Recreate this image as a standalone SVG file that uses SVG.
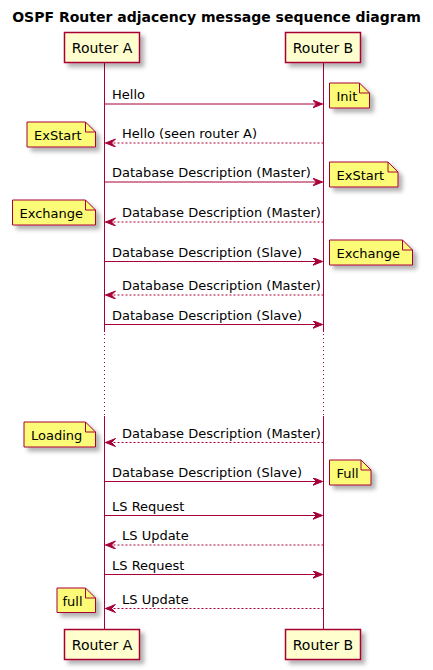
<svg xmlns="http://www.w3.org/2000/svg" width="433" height="670" viewBox="0 0 433 670">
<style>
text{font-family:"DejaVu Sans","Noto Sans",sans-serif;fill:#000}
.title{font-size:14px;font-weight:bold}
.pt{font-size:14px}
.msg{font-size:13px}
.box{fill:#FEFECE;stroke:#A80036;stroke-width:1.5}
.note{fill:#FBFB77;stroke:#A80036;stroke-width:1}
.fold{fill:none;stroke:#A80036;stroke-width:1}
.life{stroke:#A80036;stroke-width:1;fill:none}
.dot{stroke:#A80036;stroke-width:1;stroke-dasharray:1,3;fill:none}
.solid{stroke:#A80036;stroke-width:1;fill:none;marker-end:url(#ah)}
.dash{stroke:#A80036;stroke-width:1;stroke-dasharray:2,2;fill:none;marker-end:url(#ah)}
</style>
<defs>
<filter id="sh" x="-20%" y="-20%" width="160%" height="160%">
<feDropShadow dx="4" dy="4" stdDeviation="2" flood-color="#000" flood-opacity="0.3"/>
</filter>
<marker id="ah" markerUnits="userSpaceOnUse" markerWidth="12" markerHeight="10" refX="10" refY="4" orient="auto" viewBox="0 0 12 10">
<path d="M0,0 L10,4 L0,8 L4,4 Z" fill="#A80036" stroke="#A80036" stroke-width="1"/>
</marker>
</defs>
<text class="title" x="216.5" y="22" text-anchor="middle">OSPF Router adjacency message sequence diagram</text>

<g id="lifelines">
<line class="life" x1="104.5" y1="62.5" x2="104.5" y2="332"/>
<line class="dot" x1="104.5" y1="334" x2="104.5" y2="416"/>
<line class="life" x1="104.5" y1="416" x2="104.5" y2="629.5"/>
<line class="life" x1="323.5" y1="62.5" x2="323.5" y2="332"/>
<line class="dot" x1="323.5" y1="334" x2="323.5" y2="416"/>
<line class="life" x1="323.5" y1="416" x2="323.5" y2="629.5"/>
</g>

<g id="routerA">
<rect class="box" x="64.5" y="32.5" width="75" height="30" filter="url(#sh)"/>
<text class="pt" x="102" y="53" text-anchor="middle">Router A</text>
<rect class="box" x="64.5" y="629.5" width="75" height="30" filter="url(#sh)"/>
<text class="pt" x="102" y="650" text-anchor="middle">Router A</text>
</g>
<g id="routerB">
<rect class="box" x="285.5" y="32.5" width="75" height="30" filter="url(#sh)"/>
<text class="pt" x="323" y="53" text-anchor="middle">Router B</text>
<rect class="box" x="285.5" y="629.5" width="75" height="30" filter="url(#sh)"/>
<text class="pt" x="323" y="650" text-anchor="middle">Router B</text>
</g>

<g id="connectors">
<line class="solid" x1="104.5" y1="104" x2="322.5" y2="104"/>
<text class="msg" x="112" y="99">Hello</text>
<line class="dash" x1="323.5" y1="143" x2="105.5" y2="143"/>
<text class="msg" x="122" y="138">Hello (seen router A)</text>
<line class="solid" x1="104.5" y1="182" x2="322.5" y2="182"/>
<text class="msg" x="112" y="177">Database Description (Master)</text>
<line class="dash" x1="323.5" y1="222" x2="105.5" y2="222"/>
<text class="msg" x="122" y="217">Database Description (Master)</text>
<line class="solid" x1="104.5" y1="261.5" x2="322.5" y2="261.5"/>
<text class="msg" x="112" y="256.5">Database Description (Slave)</text>
<line class="dash" x1="323.5" y1="295" x2="105.5" y2="295"/>
<text class="msg" x="122" y="290">Database Description (Master)</text>
<line class="solid" x1="104.5" y1="324.5" x2="322.5" y2="324.5"/>
<text class="msg" x="112" y="319.5">Database Description (Slave)</text>
<line class="dash" x1="323.5" y1="442.5" x2="105.5" y2="442.5"/>
<text class="msg" x="122" y="437.5">Database Description (Master)</text>
<line class="solid" x1="104.5" y1="481.5" x2="322.5" y2="481.5"/>
<text class="msg" x="112" y="476.5">Database Description (Slave)</text>
<line class="solid" x1="104.5" y1="515.5" x2="322.5" y2="515.5"/>
<text class="msg" x="112" y="510.5">LS Request</text>
<line class="dash" x1="323.5" y1="545" x2="105.5" y2="545"/>
<text class="msg" x="122" y="540">LS Update</text>
<line class="solid" x1="104.5" y1="574.5" x2="322.5" y2="574.5"/>
<text class="msg" x="112" y="569.5">LS Request</text>
<line class="dash" x1="323.5" y1="608.5" x2="105.5" y2="608.5"/>
<text class="msg" x="122" y="603.5">LS Update</text>
</g>

<g id="note-init">
<path class="note" filter="url(#sh)" d="M329.5,83 L329.5,108 L369.5,108 L369.5,93 L359.5,83 Z"/>
<path class="fold" d="M359.5,83 L359.5,93 L369.5,93"/>
<text class="msg" x="336.5" y="100.5">Init</text>
</g>
<g id="note-exstart-a">
<path class="note" filter="url(#sh)" d="M27,122 L27,147 L95.5,147 L95.5,132 L85.5,122 Z"/>
<path class="fold" d="M85.5,122 L85.5,132 L95.5,132"/>
<text class="msg" x="34" y="139.5">ExStart</text>
</g>
<g id="note-exstart-b">
<path class="note" filter="url(#sh)" d="M329.5,162 L329.5,187 L398,187 L398,172 L388,162 Z"/>
<path class="fold" d="M388,162 L388,172 L398,172"/>
<text class="msg" x="336.5" y="179.5">ExStart</text>
</g>
<g id="note-exchange-a">
<path class="note" filter="url(#sh)" d="M12.5,200 L12.5,225 L95.5,225 L95.5,210 L85.5,200 Z"/>
<path class="fold" d="M85.5,200 L85.5,210 L95.5,210"/>
<text class="msg" x="19.5" y="217.5">Exchange</text>
</g>
<g id="note-exchange-b">
<path class="note" filter="url(#sh)" d="M329.5,240 L329.5,265 L412.5,265 L412.5,250 L402.5,240 Z"/>
<path class="fold" d="M402.5,240 L402.5,250 L412.5,250"/>
<text class="msg" x="336.5" y="257.5">Exchange</text>
</g>
<g id="note-loading">
<path class="note" filter="url(#sh)" d="M24,422 L24,447 L95.5,447 L95.5,432 L85.5,422 Z"/>
<path class="fold" d="M85.5,422 L85.5,432 L95.5,432"/>
<text class="msg" x="31" y="439.5">Loading</text>
</g>
<g id="note-full-b">
<path class="note" filter="url(#sh)" d="M329.5,460 L329.5,485 L371,485 L371,470 L361,460 Z"/>
<path class="fold" d="M361,460 L361,470 L371,470"/>
<text class="msg" x="336.5" y="477.5">Full</text>
</g>
<g id="note-full-a">
<path class="note" filter="url(#sh)" d="M57,588 L57,612.5 L95.5,612.5 L95.5,598 L85.5,588 Z"/>
<path class="fold" d="M85.5,588 L85.5,598 L95.5,598"/>
<text class="msg" x="62.5" y="605.5">full</text>
</g>
</svg>
